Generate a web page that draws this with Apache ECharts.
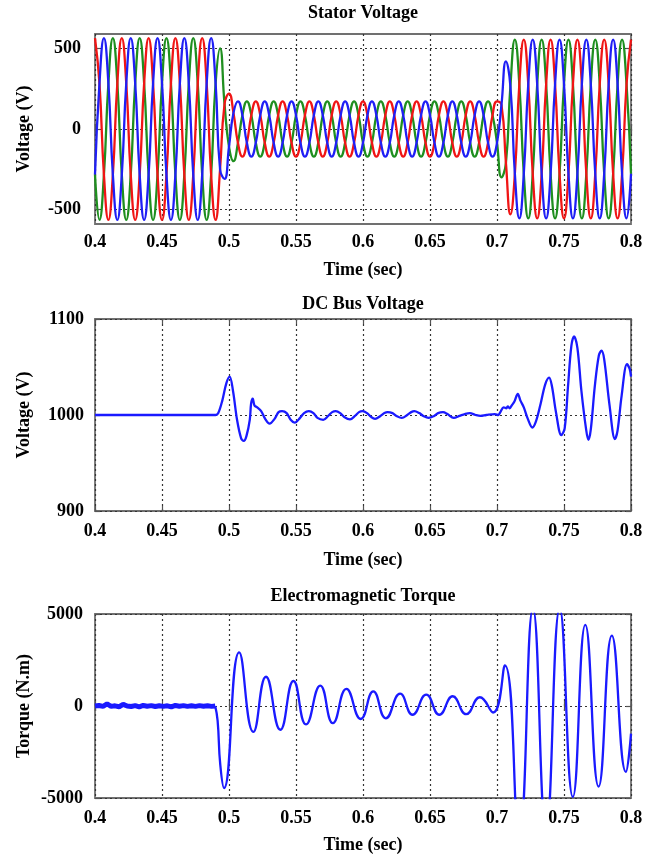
<!DOCTYPE html>
<html><head><meta charset="utf-8">
<script src="https://cdn.jsdelivr.net/npm/echarts@6/dist/echarts.min.js"></script>
<style>html,body{margin:0;padding:0;background:#fff}#c{width:652px;height:855px}</style>
</head><body><div id="c"></div>
<script>
// ---------- data ----------
const timeTicks = [0.4, 0.45, 0.5, 0.55, 0.6, 0.65, 0.7, 0.75, 0.8];
const statorTicks = [-500, 0, 500];
const dcTicks = [900, 1000, 1100];
const torqueTicks = [-5000, 0, 5000];

// stator voltage samples, every 1/300 s starting at 0.4 s
const statorT0 = 0.4;
const statorDt = 1 / 300;
const phaseRed = [
565,283,-283,-565,-283,283, 565,283,-283,-565,-283,283,
565,283,-283,-565,-283,283, 565,283,-283,-565,-283,283,
565,283,-283,-565,
-250,155,220,100,
-86,-172,-86,86,
172,86,-86,-172,-86,86, 172,86,-86,-172,-86,86, 172,86,-86,-172,-86,86,
172,86,-86,-172,-86,86, 172,86,-86,-172,-86,86, 172,86,-86,-172,-86,86,
172,86,-86,-172,-86,86, 172,86,-86,-172,-86,86, 172,86,-86,-172,-86,86,
172,
150,-210,-530,
-278,278,
555,278,-278,-555,-278,278, 555,278,-278,-555,-278,278,
555,278,-278,-555,-278,278, 555,278,-278,-555,-278,278,
555];
const phaseBlue = [
-283,283,565,283,-283,-565, -283,283,565,283,-283,-565,
-283,283,565,283,-283,-565, -283,283,565,283,-283,-565,
-283,283,565,283,
-250,-310,-110,100,
172,86,-86,-172,
-86,86,172,86,-86,-172, -86,86,172,86,-86,-172, -86,86,172,86,-86,-172,
-86,86,172,86,-86,-172, -86,86,172,86,-86,-172, -86,86,172,86,-86,-172,
-86,86,172,86,-86,-172, -86,86,172,86,-86,-172, -86,86,172,86,-86,-172,
-86,
150,420,265,
-278,-555,
-278,278,555,278,-278,-555, -278,278,555,278,-278,-555,
-278,278,555,278,-278,-555, -278,278,555,278,-278,-555,
-278];
const phaseGreen = [
-283,-565,-283,283,565,283, -283,-565,-283,283,565,283,
-283,-565,-283,283,565,283, -283,-565,-283,283,565,283,
-283,-565,-283,283,
500,155,-110,-200,
-86,86,172,86,
-86,-172,-86,86,172,86, -86,-172,-86,86,172,86, -86,-172,-86,86,172,86,
-86,-172,-86,86,172,86, -86,-172,-86,86,172,86, -86,-172,-86,86,172,86,
-86,-172,-86,86,172,86, -86,-172,-86,86,172,86, -86,-172,-86,86,172,86,
-86,
-300,-210,265,
555,278,
-278,-555,-278,278,555,278, -278,-555,-278,278,555,278,
-278,-555,-278,278,555,278, -278,-555,-278,278,555,278,
-278];

// DC bus voltage
const dcTime = [0.400,0.490,0.492,0.495,0.498,0.5005,0.503,0.506,0.509,0.511,0.513,0.5155,0.5165,0.5177,0.519,0.521,0.524,0.527,
0.5303,0.534,0.537,0.5396,0.543,0.546,0.549,0.553,0.556,0.5596,0.563,0.566,0.5703,0.574,0.577,0.5797,0.583,0.586,0.5903,0.594,
0.597,0.5997,0.603,0.606,0.609,0.613,0.616,0.6183,0.622,0.625,0.629,0.633,0.636,0.6383,0.642,0.645,0.649,0.653,0.656,0.6597,
0.663,0.6677,0.672,0.676,0.6797,0.684,0.6877,0.692,0.6984,0.701,0.7025,0.705,0.707,0.708,0.7095,0.711,0.713,0.7155,0.7175,0.720,
0.723,0.7264,0.729,0.7326,0.736,0.7389,0.741,0.744,0.748,0.7505,0.753,0.7555,0.7575,0.760,0.763,0.7665,0.7682,0.770,0.773,0.776,
0.778,0.780,0.784,0.788,0.790,0.793,0.797,0.799,0.800];
const dcVolt = [1000,1000,1002,1015,1033,1040,1025,995,976,973,978,995,1012,1017,1010,1008,1004,996,
991,996,1003,1004,1002,995,992,997,1002,1004,1002,997,995,999,1003,1004,1002,998,995.5,999,
1003,1004,1002,998,996,999,1002,1003,1002,999,997,1000,1003,1004,1002,999,997,999,1002,1003,
1001,997,999,1001,1002,1000,999,1000,1001,1000,1003,1008,1007,1009,1007,1010,1014,1022,1015,1008,
996,987,993,1012,1032,1039,1030,1003,979,986,1030,1072,1082,1070,1025,985,974,985,1030,1062,
1067,1058,1010,975,984,1020,1053,1048,1040];

// electromagnetic torque: steady noisy part and dynamic part
const torqueFlatTime = [0.400,0.403,0.406,0.409,0.412,0.415,0.418,0.421,0.424,0.427,0.430,0.433,0.436,0.439,0.442,0.445,
0.448,0.451,0.454,0.457,0.460,0.463,0.466,0.469,0.472,0.475,0.478,0.481,0.484,0.487,0.4897];
const torqueFlatVal = [0,30,-20,110,-20,10,-40,90,0,-30,20,-50,30,-10,20,-30,10,-20,10,-50,30,-10,20,-20,10,-20,20,-10,10,-20,0];
const torqueTime = [0.4897,0.4915,0.4935,0.4963,0.5076,0.5182,0.5276,0.5383,0.5481,0.5575,0.5681,0.5775,0.5876,0.5983,0.6077,
0.617,0.6277,0.637,0.6472,0.657,0.6669,0.677,0.6872,0.6971,0.7059,0.7165,0.7268,0.7366,0.7468,0.7566,0.7659,0.7758,0.7857,0.7962,0.800];
const torqueVal = [0,-800,-3200,-4460,2910,-1410,1590,-1290,1360,-1000,1110,-935,935,-706,794,
-670,670,-476,617,-476,529,-441,476,-353,2205,-7200,5300,-6800,5300,-4940,4410,-4380,3830,-3580,-1500];

// ---------- build ----------
const FONT = 'Liberation Serif';
function pairs(xs, ys) { return xs.map((x, i) => [x, ys[i]]); }
function sampled(vals) { return vals.map((v, i) => [statorT0 + i * statorDt, v]); }

const grids = [
  {left: 95, right: 21, top: 34, height: 190},
  {left: 95, right: 21, top: 319, height: 192},
  {left: 95, right: 21, top: 614, height: 189}
].map(g => Object.assign(g, {show: true, borderColor: '#707070', borderWidth: 1.8, backgroundColor: '#fff'}));

const gridLine = {show: true, lineStyle: {color: '#333', type: [2, 3], width: 1.2}};
const labelStyle = {fontFamily: FONT, fontWeight: 'bold', fontSize: 18, color: '#000'};
const nameStyle = {fontFamily: FONT, fontWeight: 'bold', fontSize: 18, color: '#000'};
const tickStyle = {show: true, inside: true, length: 5, lineStyle: {color: '#555', width: 1.2}};

const nameGaps = [37, 40, 38];
const labelMargins = [9, 11, 11];
const xAxes = [];
[0, 1, 2].forEach(i => {
  xAxes.push({
    type: 'value', gridIndex: i, min: 0.4, max: 0.8, interval: 0.05, position: 'bottom',
    name: 'Time (sec)', nameLocation: 'middle', nameGap: nameGaps[i], nameTextStyle: nameStyle,
    axisLine: {show: false},
    axisTick: Object.assign({customValues: timeTicks}, tickStyle),
    axisLabel: Object.assign({margin: labelMargins[i], customValues: timeTicks, formatter: v => String(+v.toFixed(2))}, labelStyle),
    splitLine: gridLine
  });
  xAxes.push({
    type: 'value', gridIndex: i, min: 0.4, max: 0.8, position: 'top',
    axisLine: {show: false}, axisLabel: {show: false}, splitLine: {show: false},
    axisTick: Object.assign({customValues: timeTicks}, tickStyle)
  });
});

const yDefs = [
  {gridIndex: 0, min: -590, max: 590, ticks: statorTicks, name: 'Voltage (V)', margin: 14},
  {gridIndex: 1, min: 900, max: 1100, ticks: dcTicks, name: 'Voltage (V)', margin: 11},
  {gridIndex: 2, min: -5000, max: 5000, ticks: torqueTicks, name: 'Torque (N.m)', margin: 12}
];
const yAxes = [];
yDefs.forEach(a => {
  yAxes.push({
    type: 'value', gridIndex: a.gridIndex, min: a.min, max: a.max, position: 'left',
    name: a.name, nameLocation: 'middle', nameGap: 62, nameTextStyle: nameStyle, nameMoveOverlap: false,
    axisLine: {show: false},
    axisTick: Object.assign({customValues: a.ticks}, tickStyle),
    axisLabel: Object.assign({margin: a.margin, customValues: a.ticks, formatter: v => String(v)}, labelStyle),
    splitLine: gridLine
  });
  yAxes.push({
    type: 'value', gridIndex: a.gridIndex, min: a.min, max: a.max, position: 'right',
    axisLine: {show: false}, axisLabel: {show: false}, splitLine: {show: false},
    axisTick: Object.assign({customValues: a.ticks}, tickStyle)
  });
});

const titleStyle = {fontFamily: FONT, fontWeight: 'bold', fontSize: 18, color: '#000'};
const titles = [
  {text: 'Stator Voltage', top: 4},
  {text: 'DC Bus Voltage', top: 295},
  {text: 'Electromagnetic Torque', top: 587}
].map(t => ({text: t.text, left: 363, top: t.top, textAlign: 'center', textStyle: titleStyle, padding: 0}));

function lineSeries(data, gi, color, smooth, width) {
  return {type: 'line', xAxisIndex: gi * 2, yAxisIndex: gi * 2, data: data, showSymbol: false, symbol: 'none',
    smooth: smooth, clip: true, lineStyle: {color: color, width: width}, silent: true};
}

const option = {
  animation: false,
  backgroundColor: '#fff',
  title: titles,
  grid: grids,
  xAxis: xAxes,
  yAxis: yAxes,
  series: [
    lineSeries(sampled(phaseGreen), 0, '#1f8f1f', 0.5, 2.3),
    lineSeries(sampled(phaseRed), 0, '#f01515', 0.5, 2.3),
    lineSeries(sampled(phaseBlue), 0, '#1f1ff5', 0.5, 2.3),
    lineSeries(pairs(dcTime, dcVolt), 1, '#1a1aff', 0.35, 2.3),
    lineSeries(pairs(torqueFlatTime, torqueFlatVal), 2, '#1a1aff', false, 5),
    lineSeries(pairs(torqueTime, torqueVal), 2, '#1a1aff', 0.5, 2.3)
  ]
};
const chart = echarts.init(document.getElementById('c'), null, {renderer: 'canvas'});
chart.setOption(option);
</script></body></html>
